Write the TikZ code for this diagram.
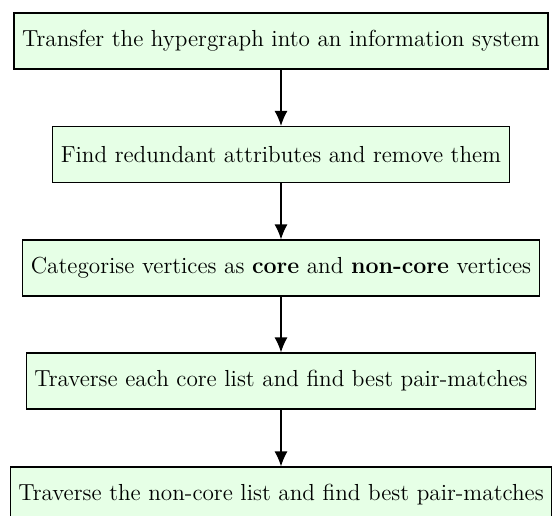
\documentclass[tikz,border=0pt]{standalone}
\usetikzlibrary{arrows.meta}
\definecolor{boxfill}{HTML}{E6FFE6}
\tikzset{
  stepbox/.style={draw=black, fill=boxfill, line width=0.6pt,
    minimum height=28pt, inner xsep=4pt, inner ysep=3pt,
    font=\fontsize{11.6}{13.5}\selectfont},
  flow/.style={-{Latex[length=7.5pt,width=6.5pt]}, line width=0.6pt}
}
\begin{document}
\begin{tikzpicture}[x=0.5pt,y=-0.5pt]
  \clip (0,0) rectangle (552,515);
  \useasboundingbox (0,0) rectangle (552,515);
  \node[stepbox] (s1) at (281,41) {Transfer the hypergraph into an information system};
  \node[stepbox] (s2) at (281,154.5) {Find redundant attributes and remove them};
  \node[stepbox] (s3) at (281,268) {Categorise vertices as \textbf{core} and \textbf{non-core} vertices};
  \node[stepbox] (s4) at (281,381) {Traverse each core list and find best pair-matches};
  \node[stepbox] (s5) at (281,495) {Traverse the non-core list and find best pair-matches};
  \draw[flow] (s1) -- (s2);
  \draw[flow] (s2) -- (s3);
  \draw[flow] (s3) -- (s4);
  \draw[flow] (s4) -- (s5);
\end{tikzpicture}
\end{document}
